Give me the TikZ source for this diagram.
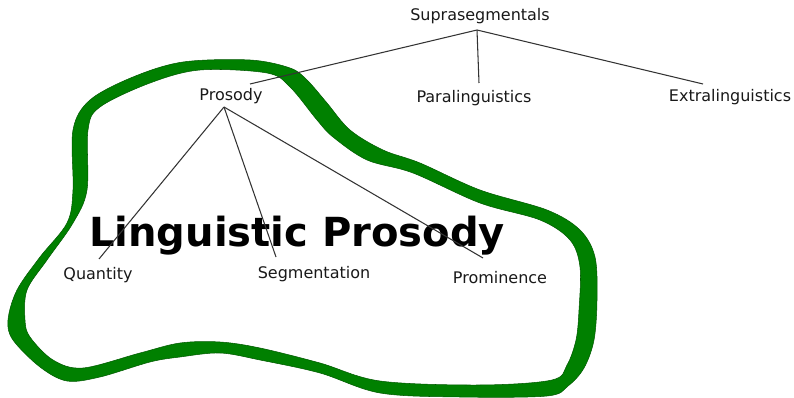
\documentclass[tikz,border=0pt]{standalone}
\usepackage{fontspec}
\setmainfont{DejaVu Sans}
\definecolor{bandgreen}{HTML}{008000}
\begin{document}
\begin{tikzpicture}[x=0.02cm,y=-0.02cm,
  lbl/.style={font=\fontsize{9.1}{11}\selectfont, inner sep=0pt, text=black!90},
  conn/.style={draw=black!80, line width=0.6pt},
  big/.style={font=\fontsize{22.8}{27}\bfseries\selectfont, inner sep=0pt}]
\useasboundingbox (0,0) rectangle (794,398);
% green band
\path[fill=bandgreen, even odd rule, draw=bandgreen!70!black, line width=0.3pt]
  plot[smooth cycle, tension=0.55] coordinates {
  (73,130) (90,100) (133,77) (183,62) (250,60) (290,68) (307,80) (327,103)
  (350,130) (383,150) (420,163) (480,190) (547,210) (580,230) (595,257)
  (597,300) (594,340) (584,368) (568,386) (547,396) (460,397) (380,393)
  (320,373) (260,360) (220,353) (180,357) (150,362) (100,377) (67,381)
  (40,367) (13,340) (8,320) (17,290) (40,257) (67,223) (73,190)}
  plot[smooth cycle, tension=0.55] coordinates {
  (88,130) (100,107) (150,83) (200,70) (267,73) (290,87) (317,120) (333,137)
  (367,160) (413,173) (480,203) (540,220) (570,240) (580,267) (579,310)
  (576,340) (567,365) (552,380) (480,385) (380,381) (320,363) (260,348)
  (220,342) (180,343) (140,353) (83,368) (53,360) (30,337) (25,320)
  (27,290) (47,260) (73,223) (87,190)};
% labels
\node[lbl] (supra) at (480,16) {Suprasegmentals};
\node[lbl] (pros) at (231,96) {Prosody};
\node[lbl] (para) at (474,98) {Paralinguistics};
\node[lbl] (extra) at (730,97) {Extralinguistics};
\node[lbl] (quant) at (98,275) {Quantity};
\node[lbl] (segm) at (314,274) {Segmentation};
\node[lbl] (prom) at (500,278) {Prominence};
\node[big] (ling) at (297,236) {Linguistic Prosody};
% connector ends
\coordinate (sh) at (477,30);
\coordinate (ph) at (224,107);
\coordinate (pe) at (250,84);
\coordinate (pa) at (479,83);
\coordinate (ex) at (703,84);
\coordinate (qe) at (99,259);
\coordinate (se) at (276,257);
\coordinate (pre) at (483,258);
\draw[conn] (sh) -- (pe);
\draw[conn] (sh) -- (pa);
\draw[conn] (sh) -- (ex);
\draw[conn] (ph) -- (qe);
\draw[conn] (ph) -- (se);
\draw[conn] (ph) -- (pre);
\end{tikzpicture}
\end{document}
